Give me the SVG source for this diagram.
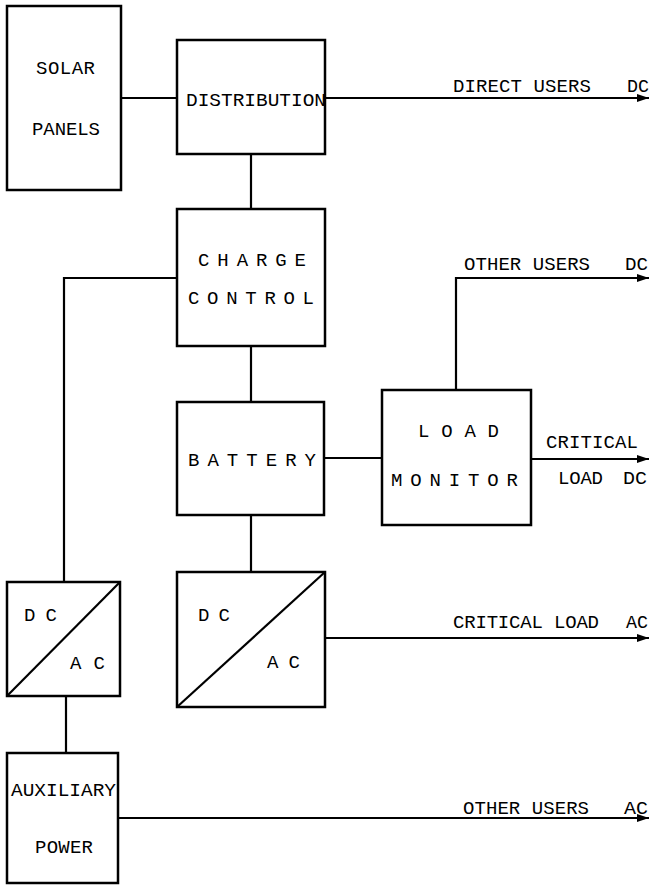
<svg xmlns="http://www.w3.org/2000/svg" width="650" height="885" viewBox="0 0 650 885">
<style>
.box{fill:#fff;stroke:#000;stroke-width:2.5}
.ln{fill:none;stroke:#000;stroke-width:2.2}
.t{font-family:"Liberation Mono","Courier New",monospace;font-size:19px;fill:#000}
</style>
<defs>
<marker id="arr" markerUnits="userSpaceOnUse" markerWidth="14" markerHeight="10" refX="12" refY="5" orient="auto">
<path d="M0,1 L12,5 L0,9 Z" fill="#000"/>
</marker>
</defs>
<rect width="650" height="885" fill="#fff"/>
<g id="connectors">
<path class="ln" d="M121,98 H177"/>
<path class="ln" d="M325,98 H649" marker-end="url(#arr)"/>
<path class="ln" d="M251,154 V209"/>
<path class="ln" d="M177,278 H64 V582"/>
<path class="ln" d="M251,346 V402"/>
<path class="ln" d="M324,458 H382"/>
<path class="ln" d="M456,390 V278 H649" marker-end="url(#arr)"/>
<path class="ln" d="M531,459 H649" marker-end="url(#arr)"/>
<path class="ln" d="M251,515 V572"/>
<path class="ln" d="M325,638 H649" marker-end="url(#arr)"/>
<path class="ln" d="M66,696 V753"/>
<path class="ln" d="M118,818 H649" marker-end="url(#arr)"/>
</g>
<g id="solar-panels">
<rect class="box" x="7" y="6" width="114" height="184"/>
<text class="t" x="36" y="74" textLength="59" lengthAdjust="spacing">SOLAR</text>
<text class="t" x="32" y="135" textLength="68" lengthAdjust="spacing">PANELS</text>
</g>
<g id="distribution">
<rect class="box" x="177" y="40" width="148" height="114"/>
<text class="t" x="186" y="106" textLength="140" lengthAdjust="spacingAndGlyphs">DISTRIBUTION</text>
</g>
<g id="charge-control">
<rect class="box" x="177" y="209" width="148" height="137"/>
<text class="t" x="198" y="266" textLength="108" lengthAdjust="spacing">C H A R G E</text>
<text class="t" x="188" y="304" textLength="126" lengthAdjust="spacing">C O N T R O L</text>
</g>
<g id="battery">
<rect class="box" x="177" y="402" width="147" height="113"/>
<text class="t" x="188" y="466" textLength="128" lengthAdjust="spacing">B A T T E R Y</text>
</g>
<g id="load-monitor">
<rect class="box" x="382" y="390" width="149" height="135"/>
<text class="t" x="418" y="437" textLength="81" lengthAdjust="spacing">L O A D</text>
<text class="t" x="391" y="486" textLength="127" lengthAdjust="spacing">M O N I T O R</text>
</g>
<g id="dcac-left">
<rect class="box" x="7" y="582" width="113" height="114"/>
<path class="ln" d="M7,696 L120,582"/>
<text class="t" x="24" y="621" textLength="33" lengthAdjust="spacing">D C</text>
<text class="t" x="70" y="669" textLength="35" lengthAdjust="spacing">A C</text>
</g>
<g id="dcac-right">
<rect class="box" x="177" y="572" width="148" height="135"/>
<path class="ln" d="M177,707 L325,572"/>
<text class="t" x="198" y="621" textLength="32" lengthAdjust="spacing">D C</text>
<text class="t" x="267" y="668" textLength="33" lengthAdjust="spacing">A C</text>
</g>
<g id="auxiliary-power">
<rect class="box" x="7" y="753" width="111" height="130"/>
<text class="t" x="11" y="796" textLength="105" lengthAdjust="spacingAndGlyphs">AUXILIARY</text>
<text class="t" x="35" y="853" textLength="58" lengthAdjust="spacing">POWER</text>
</g>
<g id="labels">
<text class="t" x="453" y="92" textLength="138" lengthAdjust="spacing">DIRECT USERS</text>
<text class="t" x="627" y="92" textLength="22" lengthAdjust="spacingAndGlyphs">DC</text>
<text class="t" x="464" y="270" textLength="126" lengthAdjust="spacing">OTHER USERS</text>
<text class="t" x="625" y="270" textLength="23" lengthAdjust="spacingAndGlyphs">DC</text>
<text class="t" x="546" y="448" textLength="92" lengthAdjust="spacing">CRITICAL</text>
<text class="t" x="558" y="484" textLength="45" lengthAdjust="spacing">LOAD</text>
<text class="t" x="623" y="484" textLength="24" lengthAdjust="spacingAndGlyphs">DC</text>
<text class="t" x="453" y="628" textLength="146" lengthAdjust="spacing">CRITICAL LOAD</text>
<text class="t" x="626" y="628" textLength="22" lengthAdjust="spacingAndGlyphs">AC</text>
<text class="t" x="463" y="814" textLength="126" lengthAdjust="spacing">OTHER USERS</text>
<text class="t" x="624" y="814" textLength="24" lengthAdjust="spacingAndGlyphs">AC</text>
</g>
</svg>
